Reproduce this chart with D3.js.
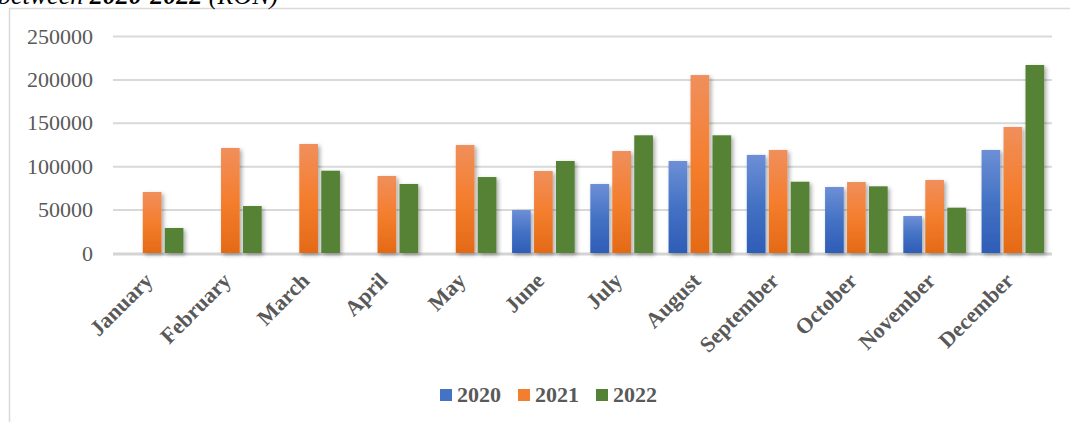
<!DOCTYPE html>
<html>
<head>
<meta charset="utf-8">
<script src="https://cdn.jsdelivr.net/npm/d3@7"></script>
<style>
  html, body { margin: 0; padding: 0; background: #fff; }
  svg { display: block; }
</style>
</head>
<body>
<svg id="chart" width="1070" height="422"></svg>
<script>
// Monthly amounts (RON), 2020–2022
const months = ["January", "February", "March", "April", "May", "June",
                "July", "August", "September", "October", "November", "December"];
const years = ["2020", "2021", "2022"];
const values2020 = [null, null, null, null, null, 49500, 79500, 106000, 113000, 76000, 42600, 118700];
const values2021 = [70300, 121000, 125600, 88700, 124400, 94500, 117500, 205000, 118700, 81800, 84100, 145200];
const values2022 = [28800, 54100, 94800, 79500, 87500, 106000, 135600, 135600, 82100, 76800, 52200, 216600];
const yTicks = [0, 50000, 100000, 150000, 200000, 250000];

const seriesValues = { "2020": values2020, "2021": values2021, "2022": values2022 };

const svg = d3.select("#chart");
const W = 1070, H = 422;
const plot = { left: 113, right: 1052, top: 36, bottom: 253 };
const textGrey = "#595959";
const serif = "'Liberation Serif', 'Times New Roman', serif";

const defs = svg.append("defs");

// vertical gradients for the 2020 and 2021 bars
function gradient(id, stops) {
  const g = defs.append("linearGradient").attr("id", id)
    .attr("x1", 0).attr("y1", 0).attr("x2", 0).attr("y2", 1);
  stops.forEach(([o, c]) => g.append("stop").attr("offset", o).attr("stop-color", c));
}
gradient("g2020", [[0, "#6d8fd6"], [0.5, "#4472c4"], [1, "#2e5db7"]]);
gradient("g2021", [[0, "#f08f5c"], [0.5, "#f47e2e"], [1, "#e46a16"]]);

const shadow = defs.append("filter").attr("id", "shadow")
  .attr("x", "-30%").attr("y", "-10%").attr("width", "170%").attr("height", "130%");
shadow.append("feDropShadow").attr("dx", 2).attr("dy", 2)
  .attr("stdDeviation", 2).attr("flood-color", "#000").attr("flood-opacity", 0.35);

const fills = { "2020": "url(#g2020)", "2021": "url(#g2021)", "2022": "#548235" };
const legendColors = { "2020": "#4472c4", "2021": "#f27f2d", "2022": "#548235" };

// frame around the chart area
svg.append("path")
  .attr("d", `M9.5,${H} V8.5 H${W}`)
  .attr("fill", "none").attr("stroke", "#d9d9d9").attr("stroke-width", 1.5);

// caption line above the frame (runs off the top edge)
const cap = svg.append("text")
  .attr("x", -2).attr("y", 4)
  .attr("font-family", serif).attr("font-size", 26).attr("font-style", "italic")
  .attr("fill", "#000");
cap.append("tspan").text("between ");
cap.append("tspan").attr("font-weight", "bold").text("2020-2022");
cap.append("tspan").text(" (RON)");

// scales
const x = d3.scaleBand().domain(months)
  .range([plot.left, plot.right]).paddingInner(0.2).paddingOuter(0.1);
const xInner = d3.scaleBand().domain(years)
  .range([0, x.bandwidth()]).paddingInner(0.15);
const y = d3.scaleLinear().domain([0, 250000]).range([plot.bottom, plot.top]);

// horizontal gridlines
const yAxis = d3.axisLeft(y).tickValues(yTicks).tickSize(0).tickPadding(20)
  .tickFormat(d3.format("d"));
const yg = svg.append("g").attr("transform", `translate(${plot.left},0)`).call(yAxis);
yg.select(".domain").remove();
yg.selectAll(".tick text")
  .attr("font-family", serif).attr("font-size", 22).attr("fill", textGrey);
yg.selectAll(".tick").filter(d => d !== 0).append("line")
  .attr("x1", 0).attr("x2", plot.right - plot.left)
  .attr("stroke", "#d9d9d9").attr("stroke-width", 2);

// category axis line
svg.append("line")
  .attr("x1", plot.left).attr("x2", plot.right)
  .attr("y1", y(0) + 1).attr("y2", y(0) + 1)
  .attr("stroke", "#d4d4d4").attr("stroke-width", 3);

// bars
const groups = svg.append("g").selectAll("g")
  .data(months).join("g")
  .attr("transform", d => `translate(${x(d)},0)`);

groups.selectAll("rect")
  .data((m, i) => years.map(yr => ({ year: yr, value: seriesValues[yr][i] }))
    .filter(d => d.value != null))
  .join("rect")
  .attr("x", d => xInner(d.year))
  .attr("width", xInner.bandwidth())
  .attr("y", d => y(d.value))
  .attr("height", d => y(0) - y(d.value))
  .attr("fill", d => fills[d.year])
  .attr("filter", "url(#shadow)");

// month labels, rotated
const xAxis = d3.axisBottom(x).tickSize(0).tickPadding(0);
const xg = svg.append("g").attr("transform", `translate(0,${plot.bottom})`).call(xAxis);
xg.select(".domain").remove();
xg.selectAll(".tick text")
  .attr("font-family", serif).attr("font-size", 22).attr("font-weight", "bold")
  .attr("fill", textGrey)
  .attr("text-anchor", "end")
  .attr("dy", 0)
  .attr("transform", "translate(2,29) rotate(-45)");

// legend
const legend = svg.append("g").attr("transform", "translate(440,389)");
let lx = 0;
years.forEach(yr => {
  const item = legend.append("g").attr("transform", `translate(${lx},0)`);
  item.append("rect").attr("width", 12).attr("height", 12).attr("fill", legendColors[yr]);
  const t = item.append("text").attr("x", 17).attr("y", 13)
    .attr("font-family", serif).attr("font-size", 22).attr("font-weight", "bold")
    .attr("fill", textGrey).text(yr);
  lx += 17 + t.node().getComputedTextLength() + 17;
});
</script>
</body>
</html>
